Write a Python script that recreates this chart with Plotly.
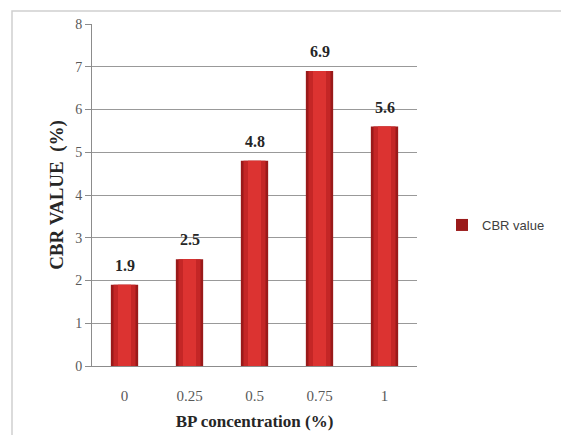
import plotly.graph_objects as go

# BP concentration (%) categories and measured CBR values (%)
concentrations = ["0", "0.25", "0.5", "0.75", "1"]
cbr_values = [1.9, 2.5, 4.8, 6.9, 5.6]
value_labels = ["1.9", "2.5", "4.8", "6.9", "5.6"]
y_ticks = [0, 1, 2, 3, 4, 5, 6, 7, 8]

SERIF = "Liberation Serif, Times New Roman, serif"

fig = go.Figure()

# Columns drawn as three nested layers: dark edges, mid body, bright core
layers = [("#9a1a1a", 0.42, True), ("#c42626", 0.34, False), ("#dc3331", 0.2, False)]
for color, width, show in layers:
    fig.add_trace(go.Bar(
        x=concentrations, y=cbr_values, name="CBR value",
        marker=dict(color=color, line=dict(width=0)),
        width=width, showlegend=show,
        hoverinfo="x+y" if show else "skip",
    ))

# Value labels above each column (category axis: x given as category index)
for i, (val, lab) in enumerate(zip(cbr_values, value_labels)):
    fig.add_annotation(
        x=i, y=val, text=f"<b>{lab}</b>", showarrow=False,
        yanchor="bottom", yshift=9,
        font=dict(family=SERIF, size=16, color="#262626"),
    )

W, H = 561, 435
L, R, T, B = 92, 144, 24, 69
pw, ph = W - L - R, H - T - B

def px_x(px):
    return (px - L) / pw

def px_y(py):
    return (H - B - py) / ph

fig.update_layout(
    width=W, height=H,
    margin=dict(l=L, r=R, t=T, b=B, autoexpand=False),
    paper_bgcolor="white", plot_bgcolor="white",
    barmode="overlay",
    font=dict(family=SERIF, color="#404040"),
    xaxis=dict(
        type="category", automargin=False,
        title=dict(text="<b>BP concentration (%)</b>",
                   font=dict(family=SERIF, size=17, color="#262626"),
                   standoff=12),
        tickfont=dict(family=SERIF, size=15, color="#595959"),
        ticklabelstandoff=16,
        showline=True, linecolor="#8c8c8c", linewidth=1,
        ticks="", showgrid=False,
    ),
    yaxis=dict(
        automargin=False,
        title=dict(text="<b>CBR VALUE  (%)</b>",
                   font=dict(family=SERIF, size=19, color="#262626"),
                   standoff=6),
        range=[0, 8], tickvals=y_ticks,
        tickfont=dict(family=SERIF, size=14, color="#595959"),
        showline=True, linecolor="#8c8c8c", linewidth=1,
        ticks="outside", ticklen=6, tickcolor="#8c8c8c",
        showgrid=True, gridcolor="#999999", gridwidth=1,
        zeroline=False,
    ),
    legend=dict(
        x=px_x(442), y=px_y(225), xanchor="left", yanchor="middle",
        font=dict(family="Liberation Sans Narrow, Liberation Sans, Arial", size=13, color="#404040"),
        bgcolor="rgba(0,0,0,0)", itemwidth=30,
    ),
    shapes=[dict(
        type="rect", xref="paper", yref="paper",
        x0=px_x(12), x1=px_x(620), y0=px_y(500), y1=px_y(11),
        line=dict(color="#d0d0d0", width=1.5), layer="below",
    )],
)

fig.write_html("out.html")
